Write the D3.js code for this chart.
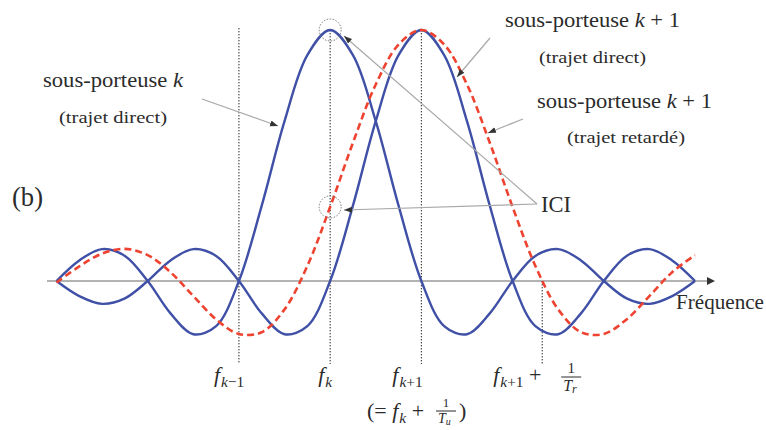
<!DOCTYPE html>
<html>
<head>
<meta charset="utf-8">
<script src="https://cdn.jsdelivr.net/npm/d3@7"></script>
<style>
  html, body { margin: 0; padding: 0; background: #fff; }
  svg { display: block; }
  text { font-family: "Liberation Serif", "DejaVu Serif", serif; fill: #2b2b2b; }
</style>
</head>
<body>
<svg id="chart" width="766" height="430" font-family="Liberation Serif, DejaVu Serif, serif"></svg>
<script>
// Frequency grid, in units of the subcarrier spacing 1/Tu (f_k = 0)
const freq = [-3, -2.75, -2.5, -2.25, -2, -1.75, -1.5, -1.25, -1, -0.75, -0.5, -0.25,
              0, 0.25, 0.5, 0.75, 1, 1.25, 1.5, 1.75, 2, 2.25, 2.5, 2.75, 3, 3.25, 3.5, 3.75, 4];

// Subcarrier k, direct path (normalised amplitude)
const subK = [0, 0.082, 0.127, 0.100, 0, -0.129, -0.212, -0.180, 0, 0.300, 0.637, 0.900,
              1, 0.900, 0.637, 0.300, 0, -0.180, -0.212, -0.129, 0, 0.100, 0.127, 0.082,
              0, -0.069, -0.091, -0.060, 0];

// Subcarrier k+1, direct path
const subK1 = [0, -0.060, -0.091, -0.069, 0, 0.082, 0.127, 0.100, 0, -0.129, -0.212, -0.180,
               0, 0.300, 0.637, 0.900, 1, 0.900, 0.637, 0.300, 0, -0.180, -0.212, -0.129,
               0, 0.100, 0.127, 0.082, 0];

// Subcarrier k+1, delayed path (wider main lobe, zeros at f_{k+1} ± 1/Tr)
const subK1Delayed = [-0.006, 0.058, 0.109, 0.128, 0.103, 0.035, -0.060, -0.153, -0.211, -0.204, -0.113, 0.060,
                      0.295, 0.551, 0.783, 0.942, 1, 0.942, 0.783, 0.551, 0.295, 0.060, -0.113, -0.204,
                      -0.211, -0.153, -0.060, 0.035, 0.103];

// Marked frequencies on the axis: f_{k-1}, f_k, f_{k+1}, f_{k+1} + 1/Tr
const markerFreqs = [-1, 0, 1, 2.325];
const markerNames = ["fkm1", "fk", "fk1", "fk1Tr"];

const svg = d3.select("#chart");

const x = d3.scaleLinear().domain([-3, 4]).range([56.5, 695]);
const y = d3.scaleLinear().domain([0, 1]).range([281, 30]);

const BLUE = "#3f50a6";
const RED = "#ee4331";

// arrowheads
const defs = svg.append("defs");
defs.append("marker")
  .attr("id", "arr").attr("markerUnits", "userSpaceOnUse")
  .attr("markerWidth", 9).attr("markerHeight", 7)
  .attr("refX", 8).attr("refY", 3).attr("orient", "auto")
  .append("path").attr("d", "M0,0 L8,3 L0,6 Z").attr("fill", "#333");
defs.append("marker")
  .attr("id", "axarr").attr("markerUnits", "userSpaceOnUse")
  .attr("markerWidth", 10).attr("markerHeight", 8)
  .attr("refX", 1).attr("refY", 4).attr("orient", "auto")
  .append("path").attr("d", "M0,0 L8,4 L0,8 Z").attr("fill", "#333");

// frequency axis
svg.append("line")
  .attr("x1", 47).attr("x2", 708)
  .attr("y1", y(0)).attr("y2", y(0))
  .attr("stroke", "#9a9a9a").attr("stroke-width", 1.6)
  .attr("marker-end", "url(#axarr)");

// dotted markers
const markerTop = [1, 1, 1, 0];
svg.append("g").selectAll("line")
  .data(markerFreqs)
  .join("line")
  .attr("x1", d => x(d)).attr("x2", d => x(d))
  .attr("y1", (d, i) => y(markerTop[i]) - (i === 0 ? 2 : 0))
  .attr("y2", 364)
  .attr("stroke", "#222").attr("stroke-width", 1)
  .attr("stroke-dasharray", "1.4,1.6");

// curves
const line = d3.line()
  .x(d => x(d[0])).y(d => y(d[1]))
  .curve(d3.curveCatmullRom.alpha(0.5));

const pts = arr => freq.map((f, i) => [f, arr[i]]);

svg.append("path").attr("d", line(pts(subK)))
  .attr("fill", "none").attr("stroke", BLUE).attr("stroke-width", 2.4);
svg.append("path").attr("d", line(pts(subK1)))
  .attr("fill", "none").attr("stroke", BLUE).attr("stroke-width", 2.4);
svg.append("path").attr("d", line(pts(subK1Delayed)))
  .attr("fill", "none").attr("stroke", RED).attr("stroke-width", 2.6)
  .attr("stroke-dasharray", "7,4");

// ICI circles: peak of subcarrier k, and the delayed k+1 leaking in at f_k
const iK = freq.indexOf(0);
[[0, subK[iK]], [0, subK1Delayed[iK]]].forEach(([f, v]) => {
  svg.append("circle")
    .attr("cx", x(f)).attr("cy", y(v)).attr("r", 11)
    .attr("fill", "none").attr("stroke", "#777").attr("stroke-width", 1)
    .attr("stroke-dasharray", "1.5,1.5");
});

// annotation leaders
const leaders = [
  [[202, 99], [278, 126]],
  [[537, 204], [344, 36]],
  [[537, 204], [344, 210]],
  [[490, 38], [457, 77]],
  [[523, 119], [488, 133]]
];
svg.append("g").selectAll("line")
  .data(leaders)
  .join("line")
  .attr("x1", d => d[0][0]).attr("y1", d => d[0][1])
  .attr("x2", d => d[1][0]).attr("y2", d => d[1][1])
  .attr("stroke", "#a8a8a8").attr("stroke-width", 1.2)
  .attr("marker-end", "url(#arr)");

// plain labels
function label(txt, x0, base, size, width, italicTail) {
  const t = svg.append("text")
    .attr("x", x0).attr("y", base)
    .style("font-size", size + "px");
  if (italicTail) {
    t.append("tspan").text(txt);
    t.append("tspan").text(italicTail.k).style("font-style", "italic");
    if (italicTail.rest) t.append("tspan").text(italicTail.rest);
  } else {
    t.text(txt);
  }
  if (width) t.attr("textLength", width).attr("lengthAdjust", "spacingAndGlyphs");
  return t;
}

label("sous-porteuse ", 43, 87, 22, 140, { k: "k" });
label("(trajet direct)", 59, 123, 17, 108);
label("sous-porteuse ", 505, 27, 22, 175, { k: "k", rest: " + 1" });
label("(trajet direct)", 539, 63, 17, 107);
label("sous-porteuse ", 537, 108, 22, 175, { k: "k", rest: " + 1" });
label("(trajet retardé)", 567, 143, 17, 118);
label("(b)", 12, 206, 27, 31);
label("ICI", 541, 212, 23, 30);
label("Fréquence", 676, 309, 21, 88);

// math tick labels
function mathLabel(parts, x0, base, size) {
  const t = svg.append("text").attr("x", x0).attr("y", base).style("font-size", size + "px");
  let inSub = false;
  parts.forEach(p => {
    const s = t.append("tspan").text(p.t);
    if (p.it) s.style("font-style", "italic");
    if (p.sub) {
      s.style("font-size", (size * 0.7) + "px");
      if (!inSub) s.attr("dy", 5);
      inSub = true;
    } else {
      if (inSub) s.attr("dy", -5);
      inSub = false;
    }
    if (p.dx) s.attr("dx", p.dx);
  });
  return t;
}

function fraction(den, sub, cx, lineY, size) {
  svg.append("text").attr("x", cx).attr("y", lineY - 4)
    .attr("text-anchor", "middle").style("font-size", size + "px").text("1");
  svg.append("line").attr("x1", cx - 10).attr("x2", cx + 10)
    .attr("y1", lineY).attr("y2", lineY)
    .attr("stroke", "#2b2b2b").attr("stroke-width", 1);
  const t = svg.append("text").attr("x", cx - 8).attr("y", lineY + size - 1)
    .style("font-size", (size + 1) + "px");
  t.append("tspan").text(den).style("font-style", "italic");
  t.append("tspan").text(sub).style("font-style", "italic")
    .style("font-size", (size - 3) + "px").attr("dy", 2);
}

const tickParts = {
  fkm1: [{ t: "f", it: 1 }, { t: "k", it: 1, sub: 1, dx: 1 }, { t: "−1", sub: 1 }],
  fk: [{ t: "f", it: 1 }, { t: "k", it: 1, sub: 1, dx: 1 }],
  fk1: [{ t: "f", it: 1 }, { t: "k", it: 1, sub: 1, dx: 1 }, { t: "+1", sub: 1 }],
  fk1Tr: [{ t: "f", it: 1 }, { t: "k", it: 1, sub: 1, dx: 1 }, { t: "+1", sub: 1 }, { t: " + " }]
};
const tickOffset = { fkm1: -25, fk: -12, fk1: -29, fk1Tr: -49 };

markerFreqs.forEach((f, i) => {
  const name = markerNames[i];
  mathLabel(tickParts[name], x(f) + tickOffset[name], 382, 22);
});
// 1/Tr next to f_{k+1} +
fraction("T", "r", x(markerFreqs[3]) + 29, 377, 15);

// (= f_k + 1/Tu)
mathLabel([{ t: "(= " }, { t: "f", it: 1 }, { t: "k", it: 1, sub: 1, dx: 1 }, { t: " + " }], 367, 418, 22);
fraction("T", "u", 446, 411, 13);
label(")", 459, 418, 22);
</script>
</body>
</html>
